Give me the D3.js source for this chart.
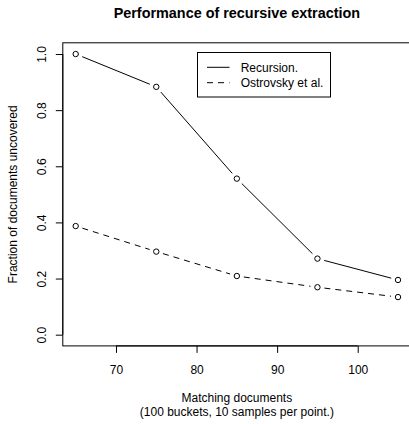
<!DOCTYPE html>
<html>
<head>
<meta charset="utf-8">
<script src="https://cdn.jsdelivr.net/npm/d3@7"></script>
<style>
  body { margin: 0; background: #fff; }
  text { font-family: "Liberation Sans", Arial, Helvetica, sans-serif; fill: #000; }
</style>
</head>
<body>
<div id="chart"></div>
<script>
var width = 409;
var height = 424;

// data
var docs = [65, 75, 85, 95, 105];
var recursion = [1.0, 0.883, 0.556, 0.271, 0.195];
var ostrovsky = [0.387, 0.296, 0.209, 0.169, 0.134];
var xTicks = [70, 80, 90, 100];
var yTicks = [0, 0.2, 0.4, 0.6, 0.8, 1.0];
var seriesNames = ["Recursion.", "Ostrovsky et al."];

var plotLeft = 62.8, plotTop = 42.8, plotRight = 410.9, plotBottom = 345.9;

var x = d3.scaleLinear().domain([63.4, 106.6]).range([plotLeft, plotRight]);
var y = d3.scaleLinear().domain([-0.04, 1.04]).range([plotBottom, plotTop]);

var svg = d3.select("#chart")
    .append("svg")
    .attr("width", width)
    .attr("height", height);

// title
svg.append("text")
    .attr("x", (plotLeft + plotRight) / 2)
    .attr("y", 17.5)
    .attr("text-anchor", "middle")
    .style("font-size", "14.4px")
    .style("font-weight", "bold")
    .text("Performance of recursive extraction");

// box (right side falls outside the picture)
svg.append("rect")
    .attr("x", plotLeft)
    .attr("y", plotTop)
    .attr("width", plotRight - plotLeft)
    .attr("height", plotBottom - plotTop)
    .attr("fill", "none")
    .attr("stroke", "#000")
    .attr("stroke-width", 1);

// x axis
var xAxis = d3.axisBottom(x).tickValues(xTicks).tickSize(7).tickPadding(0).tickFormat(d3.format("d"));
var gx = svg.append("g").attr("transform", "translate(0," + plotBottom + ")").call(xAxis);
gx.select(".domain").attr("d", "M" + x(xTicks[0]) + ",0H" + x(xTicks[xTicks.length - 1]));
gx.selectAll("text").remove();
gx.selectAll(".tick").append("text")
    .attr("y", 28.3)
    .attr("text-anchor", "middle")
    .style("font-size", "12px")
    .text(function(d) { return d; });

// y axis
var yAxis = d3.axisLeft(y).tickValues(yTicks).tickSize(7).tickFormat(d3.format(".1f"));
var gy = svg.append("g").attr("transform", "translate(" + plotLeft + ",0)").call(yAxis);
gy.select(".domain").attr("d", "M0," + y(0) + "V" + y(1));
gy.selectAll("text").remove();
gy.selectAll(".tick").append("text")
    .attr("transform", "translate(-16.5,0) rotate(-90)")
    .attr("text-anchor", "middle")
    .style("font-size", "12px")
    .text(function(d) { return d3.format(".1f")(d); });
svg.selectAll(".tick line").attr("stroke", "#000");
svg.selectAll(".domain").attr("stroke", "#000");

// axis titles
svg.append("text")
    .attr("x", (plotLeft + plotRight) / 2)
    .attr("y", 401.7)
    .attr("text-anchor", "middle")
    .style("font-size", "12px")
    .text("Matching documents");
svg.append("text")
    .attr("x", (plotLeft + plotRight) / 2)
    .attr("y", 416.2)
    .attr("text-anchor", "middle")
    .style("font-size", "12px")
    .text("(100 buckets, 10 samples per point.)");
svg.append("text")
    .attr("transform", "translate(16.5," + ((plotTop + plotBottom) / 2) + ") rotate(-90)")
    .attr("text-anchor", "middle")
    .style("font-size", "12px")
    .text("Fraction of documents uncovered");

// lines with gaps round the points (type "b")
var gap = 7;
function drawSeries(vals, dash) {
  var pts = docs.map(function(d, i) { return [x(d), y(vals[i])]; });
  var segs = [];
  for (var i = 0; i < pts.length - 1; i++) {
    var dx = pts[i + 1][0] - pts[i][0], dy = pts[i + 1][1] - pts[i][1];
    var len = Math.sqrt(dx * dx + dy * dy);
    var ux = dx / len, uy = dy / len;
    segs.push([pts[i][0] + ux * gap, pts[i][1] + uy * gap, pts[i + 1][0] - ux * gap, pts[i + 1][1] - uy * gap]);
  }
  svg.append("g").selectAll("line")
      .data(segs)
      .enter()
      .append("line")
      .attr("x1", function(s) { return s[0]; })
      .attr("y1", function(s) { return s[1]; })
      .attr("x2", function(s) { return s[2]; })
      .attr("y2", function(s) { return s[3]; })
      .attr("stroke", "#000")
      .attr("stroke-width", 1)
      .attr("stroke-dasharray", dash);
  svg.append("g").selectAll("circle")
      .data(pts)
      .enter()
      .append("circle")
      .attr("cx", function(p) { return p[0]; })
      .attr("cy", function(p) { return p[1]; })
      .attr("r", 2.7)
      .attr("fill", "none")
      .attr("stroke", "#000")
      .attr("stroke-width", 1);
}
drawSeries(recursion, null);
drawSeries(ostrovsky, "6,5");

// legend
var legend = svg.append("g");
legend.append("rect")
    .attr("x", 197.5)
    .attr("y", 52.5)
    .attr("width", 133)
    .attr("height", 44.5)
    .attr("fill", "#fff")
    .attr("stroke", "#000");
var rows = legend.selectAll(".row")
    .data(seriesNames)
    .enter()
    .append("g")
    .attr("class", "row")
    .attr("transform", function(d, i) { return "translate(0," + (67.3 + i * 15.4) + ")"; });
rows.append("line")
    .attr("x1", 207)
    .attr("x2", 229.5)
    .attr("stroke", "#000")
    .attr("stroke-dasharray", function(d, i) { return i == 1 ? "6,5" : null; });
rows.append("text")
    .attr("x", 240.7)
    .attr("y", 4.3)
    .style("font-size", "12px")
    .text(function(d) { return d; });
</script>
</body>
</html>
